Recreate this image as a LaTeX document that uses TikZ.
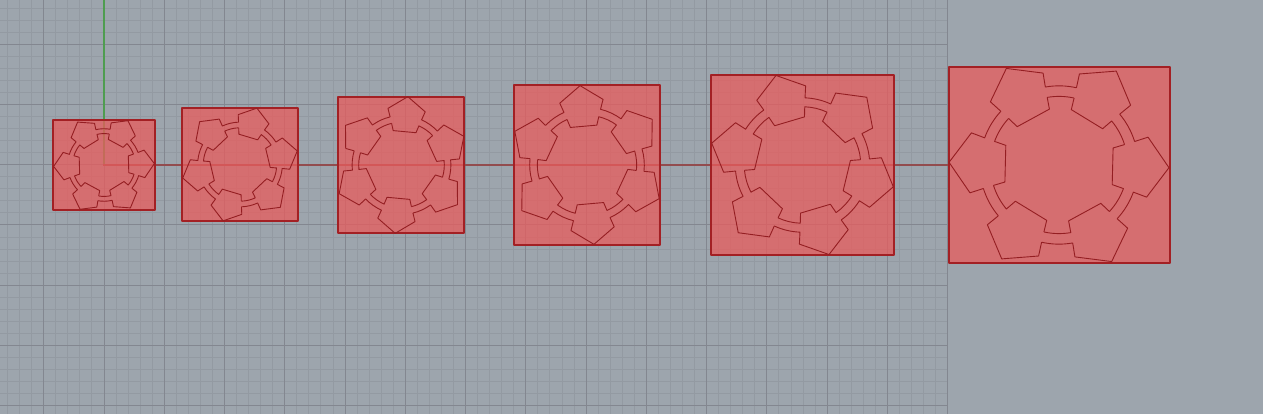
\documentclass[tikz,border=0pt]{standalone}
\tikzset{
  x=1pt,y=1pt,
  minorgrid/.style={draw=gridminor,line width=1pt},
  majorgrid/.style={draw=gridmajor,line width=1pt},
  plate/.style={draw=plateedge,line width=2.2pt,fill=platefill,fill opacity=0.75,draw opacity=1,line join=round},
  cutline/.style={draw=cutcolor,line width=0.9pt,line join=round},
}
\definecolor{bgc}{RGB}{157,165,173}
\definecolor{gridminor}{RGB}{147,154,162}
\definecolor{gridmajor}{RGB}{131,135,144}
\definecolor{platefill}{RGB}{233,92,92}
\definecolor{plateedge}{RGB}{163,32,36}
\definecolor{cutcolor}{RGB}{148,30,34}
\definecolor{xaxisc}{RGB}{146,76,78}
\definecolor{yaxisc}{RGB}{79,157,80}
% cx, cy (screen), scale, clockwise angle
\newcommand{\ringgear}[4]{%
  \begin{scope}[shift={(#1,414-#2)},rotate=-#4,scale=#3/3]
    \foreach \k in {0,60,...,300}{
      \draw[cutline,rotate=-\k]
        (225,76) -- (265,90) -- (330,0) -- (265,-90) -- (225,-76)
        arc[start angle=-18.66,end angle=-41.34,radius=238];
      \draw[cutline,rotate=-\k]
        (195,66) -- (161,55) -- (161,-55) -- (195,-66)
        arc[start angle=-18.7,end angle=-41.3,radius=206];
    }
  \end{scope}}
\newcommand{\plate}[4]{\draw[plate] (#1,414-#3) rectangle (#2,414-#4);}
\begin{document}
\begin{tikzpicture}
  \useasboundingbox (0,0) rectangle (1263,414);
  \fill[bgc] (0,0) rectangle (1263,414);
  % minor grid (snapped to pixel centres)
  \foreach \k in {-8,...,70}{
    \pgfmathsetmacro{\gx}{floor(104+12.053*\k)+0.5}
    \draw[minorgrid] (\gx,0) -- (\gx,414);}
  \foreach \k in {-20,...,13}{
    \pgfmathsetmacro{\gy}{floor(414-164.7+12.053*\k)+0.5}
    \draw[minorgrid] (0,\gy) -- (947.7,\gy);}
  % major grid
  \foreach \k in {-1,...,14}{
    \pgfmathsetmacro{\gx}{floor(104+60.265*\k)+0.5}
    \draw[majorgrid] (\gx,0) -- (\gx,414);}
  \foreach \k in {-4,...,2}{
    \pgfmathsetmacro{\gy}{floor(414-164.7+60.265*\k)+0.5}
    \draw[majorgrid] (0,\gy) -- (947.7,\gy);}
  % axes
  \draw[yaxisc,line width=2pt] (104,414) -- (104,249.3);
  \draw[xaxisc,line width=2.2pt] (103,249.3) -- (947.7,249.3);
  % plates
  \plate{52.7}{155}{120}{210}
  \plate{181.7}{298.3}{108.3}{220.7}
  \plate{338.3}{464.3}{96.7}{233.3}
  \plate{513.7}{660}{84.7}{245}
  \plate{711}{894}{74.7}{254.7}
  \plate{948.7}{1170}{66.7}{262.7}
  % ring gears
  \ringgear{104}{165}{0.458}{-1.6}
  \ringgear{240}{164.5}{0.535}{46.7}
  \ringgear{401.5}{165}{0.624}{35.3}
  \ringgear{587}{165}{0.724}{25}
  \ringgear{802.5}{165}{0.849}{13.5}
  \ringgear{1059}{165}{1}{1.4}
\end{tikzpicture}
\end{document}
